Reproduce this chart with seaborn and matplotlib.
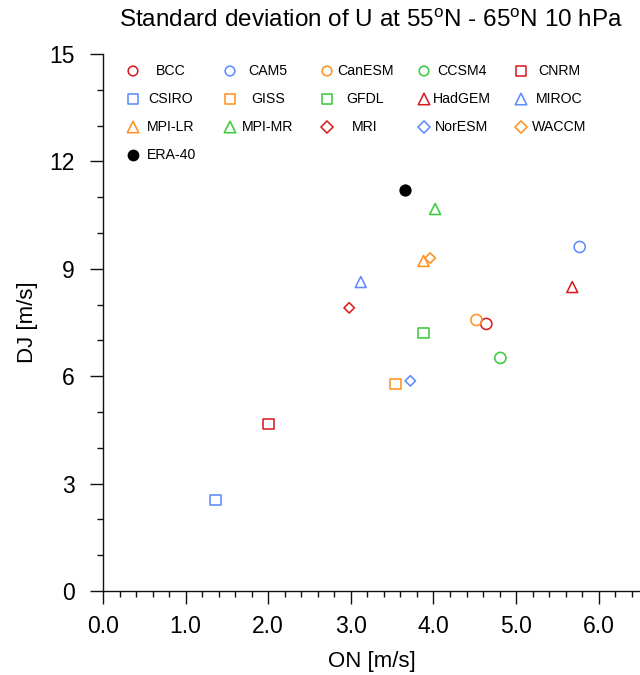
import matplotlib
matplotlib.use("Agg")
import matplotlib.pyplot as plt
import seaborn as sns
import pandas as pd
import numpy as np
from matplotlib.ticker import MultipleLocator, FixedLocator

# ---------------- data ----------------
models = ["BCC", "CAM5", "CanESM", "CCSM4", "CNRM",
          "CSIRO", "GISS", "GFDL", "HadGEM", "MIROC",
          "MPI-LR", "MPI-MR", "MRI", "NorESM", "WACCM"]
on_std = [4.64, 5.77, 4.52, 4.81, 2.00,
          1.36, 3.54, 3.88, 5.68, 3.12,
          3.88, 4.02, 2.98, 3.72, 3.96]
dj_std = [7.46, 9.61, 7.57, 6.51, 4.66,
          2.54, 5.78, 7.21, 8.49, 8.63,
          9.22, 10.67, 7.91, 5.87, 9.30]
obs_name = "ERA-40"
obs_on = [3.66]
obs_dj = [11.20]

x_ticks = [0, 1, 2, 3, 4, 5, 6]
x_ticklabels = ["0.0", "1.0", "2.0", "3.0", "4.0", "5.0", "6.0"]
y_ticks = [0, 3, 6, 9, 12, 15]
y_ticklabels = ["0", "3", "6", "9", "12", "15"]

title = "Standard deviation of U at 55$^{\\mathregular{o}}$N - 65$^{\\mathregular{o}}$N 10 hPa"
xlabel = "ON [m/s]"
ylabel = "DJ [m/s]"

# ---------------- styles ----------------
RED, BLUE, ORANGE, GREEN = "#D81E24", "#5E8CFF", "#FF9222", "#3CCB3C"
model_colors = [RED, BLUE, ORANGE, GREEN, RED,
                BLUE, ORANGE, GREEN, RED, BLUE,
                ORANGE, GREEN, RED, BLUE, ORANGE]
model_markers = ["o", "o", "o", "o", "s",
                 "s", "s", "s", "^", "^",
                 "^", "^", "D", "D", "D"]
plot_size = {"o": 64, "s": 58, "^": 62, "D": 28}
leg_size = {"o": 48, "s": 58, "^": 68, "D": 38}
LW = 1.15

sns.set_style("white")
plt.rcParams["font.family"] = ["Liberation Sans", "DejaVu Sans"]
plt.rcParams["mathtext.fontset"] = "custom"
plt.rcParams["mathtext.rm"] = "Liberation Sans"
plt.rcParams["text.color"] = "black"
plt.rcParams["axes.labelcolor"] = "black"
plt.rcParams["xtick.color"] = "black"
plt.rcParams["ytick.color"] = "black"
plt.rcParams["axes.edgecolor"] = "black"

df = pd.DataFrame({"model": models, "ON": on_std, "DJ": dj_std,
                   "marker": model_markers})
palette = dict(zip(models, model_colors))

W, H = 640, 675
fig = plt.figure(figsize=(W / 100, H / 100), dpi=100)
AX_L, AX_R, AX_T, AX_B = 103, 640, 54, 591
ax = fig.add_axes([AX_L / W, 1 - AX_B / H, (AX_R - AX_L) / W, (AX_B - AX_T) / H])

for mk in ["o", "s", "^", "D"]:
    sub = df[df["marker"] == mk]
    sns.scatterplot(data=sub, x="ON", y="DJ", hue="model", palette=palette,
                    marker=mk, s=plot_size[mk], linewidth=LW, legend=False,
                    ax=ax, zorder=3)
    coll = ax.collections[-1]
    fc = coll.get_facecolors()
    coll.set_edgecolors(fc)
    coll.set_facecolors("none")
    coll.set_linewidths(LW)

sns.scatterplot(x=obs_on, y=obs_dj, color="black", marker="o", s=78,
                linewidth=0, legend=False, ax=ax, zorder=4)

ax.set_xlim(0, 6.5)
ax.set_ylim(0, 15)
ax.xaxis.set_major_locator(FixedLocator(x_ticks))
ax.set_xticklabels(x_ticklabels)
ax.xaxis.set_minor_locator(MultipleLocator(0.2))
ax.yaxis.set_major_locator(FixedLocator(y_ticks))
ax.set_yticklabels(y_ticklabels)
ax.yaxis.set_minor_locator(MultipleLocator(1))

for s in ["top", "right"]:
    ax.spines[s].set_visible(False)
for s in ["left", "bottom"]:
    ax.spines[s].set_linewidth(1.0)
    ax.spines[s].set_color("#111111")

ax.tick_params(which="major", direction="out", length=9.4, width=1.0,
               color="#111111", labelcolor="black", labelsize=16.5,
               left=True, bottom=True)
ax.tick_params(which="minor", direction="out", length=4.3, width=1.0,
               color="#111111", left=True, bottom=True)
ax.tick_params(axis="x", which="major", pad=8)
ax.tick_params(axis="y", which="major", pad=11)

ax.set_xlabel(xlabel, fontsize=16, color="black")
ax.set_ylabel(ylabel, fontsize=16, color="black")
ax.xaxis.set_label_coords((372 - AX_L) / (AX_R - AX_L), (AX_B - 651) / (AX_B - AX_T))
ax.yaxis.set_label_coords((38 - AX_L) / (AX_R - AX_L), (AX_B - 322) / (AX_B - AX_T))

fig.text(371 / W, 1 - 21 / H, title, ha="center", va="center", fontsize=17.5,
         color="black")

# ---------------- legend (manual grid, 5 columns) ----------------
def to_ax(px, py):
    return (px - AX_L) / (AX_R - AX_L), (AX_B - py) / (AX_B - AX_T)

COL0, COLSTEP, ROW0, ROWSTEP, TXTOFF = 133, 97, 71, 28, 38
entries = list(zip(models, model_colors, model_markers)) + [(obs_name, "black", "obs")]
for i, (name, col, mk) in enumerate(entries):
    r, c = divmod(i, 5)
    mx, my = COL0 + COLSTEP * c, ROW0 + ROWSTEP * r
    axx, axy = to_ax(mx, my)
    if mk == "obs":
        ax.scatter([axx], [axy], transform=ax.transAxes, marker="o", s=72,
                   color="black", linewidths=0, clip_on=False)
    else:
        ax.scatter([axx], [axy], transform=ax.transAxes, marker=mk, s=leg_size[mk],
                   facecolors="none", edgecolors=col, linewidths=LW, clip_on=False)
    tx, ty = to_ax(mx + TXTOFF, my)
    ax.text(tx, ty, name, transform=ax.transAxes, ha="center", va="center",
            fontsize=10.2, color="black")

fig.savefig("out.png", dpi=100)
